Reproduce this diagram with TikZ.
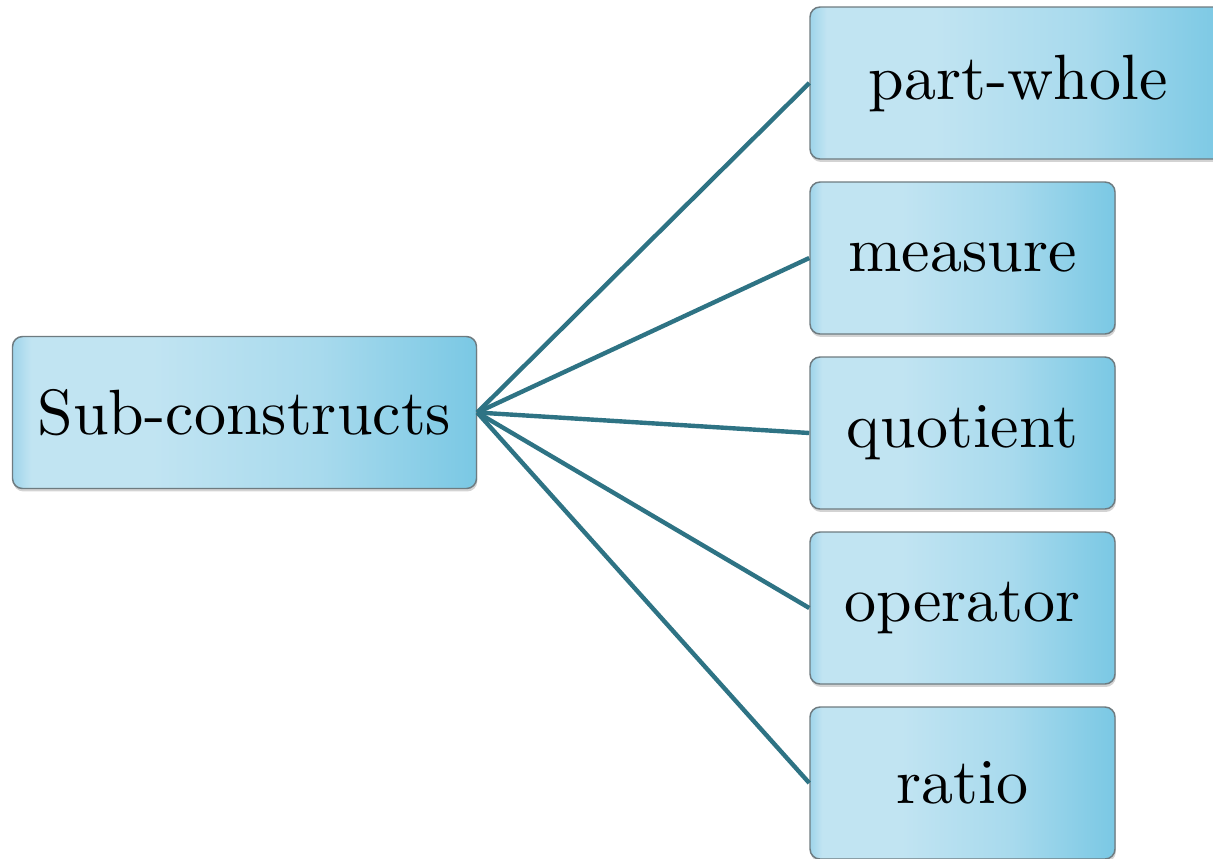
\documentclass[tikz,border=0pt]{standalone}
\usepackage{fontspec}
\usetikzlibrary{shadows}
\newfontfamily\boxfont{lmroman10-regular}[Extension=.otf]
\definecolor{linecol}{HTML}{2E7384}
\definecolor{edgecol}{HTML}{6E7B80}
\definecolor{cA}{HTML}{9ED4EA}
\definecolor{cB}{HTML}{C1E4F2}
\definecolor{cC}{HTML}{A8DAED}
\definecolor{cD}{HTML}{7AC8E4}
\pgfdeclarehorizontalshading{boxshade}{100bp}{color(0bp)=(cA); color(25bp)=(cA); color(27bp)=(cB); color(40bp)=(cB); color(58bp)=(cC); color(75bp)=(cD); color(100bp)=(cD)}
\tikzset{
  box/.style={draw=edgecol, line width=1.1pt, rounded corners=7.5pt, shading=boxshade,
    minimum height=114pt, inner sep=0pt, font=\boxfont\fontsize{48}{58}\selectfont,
    drop shadow={opacity=0.35, shadow xshift=0.6pt, shadow yshift=-2.2pt}},
  conn/.style={draw=linecol, line width=3.3pt}
}
\begin{document}
\begin{tikzpicture}[x=0.75pt,y=-0.75pt]
\useasboundingbox (0,0) rectangle (1213,858);
\clip (0,0) rectangle (1213,858);
\node[box, minimum width=348pt] (sub) at (244.5,412.5) {Sub-constructs};
\node[box, minimum width=312pt] (pw) at (1018,83) {part-whole};
\node[box, minimum width=228.75pt] (me) at (962.5,258) {measure};
\node[box, minimum width=228.75pt] (qu) at (962.5,433) {quotient};
\node[box, minimum width=228.75pt] (op) at (962.5,608) {operator};
\node[box, minimum width=228.75pt] (ra) at (962.5,783) {ratio};
\foreach \t in {pw,me,qu,op,ra}{
  \draw[conn] (sub.east) -- (\t.west);
}
\end{tikzpicture}
\end{document}
